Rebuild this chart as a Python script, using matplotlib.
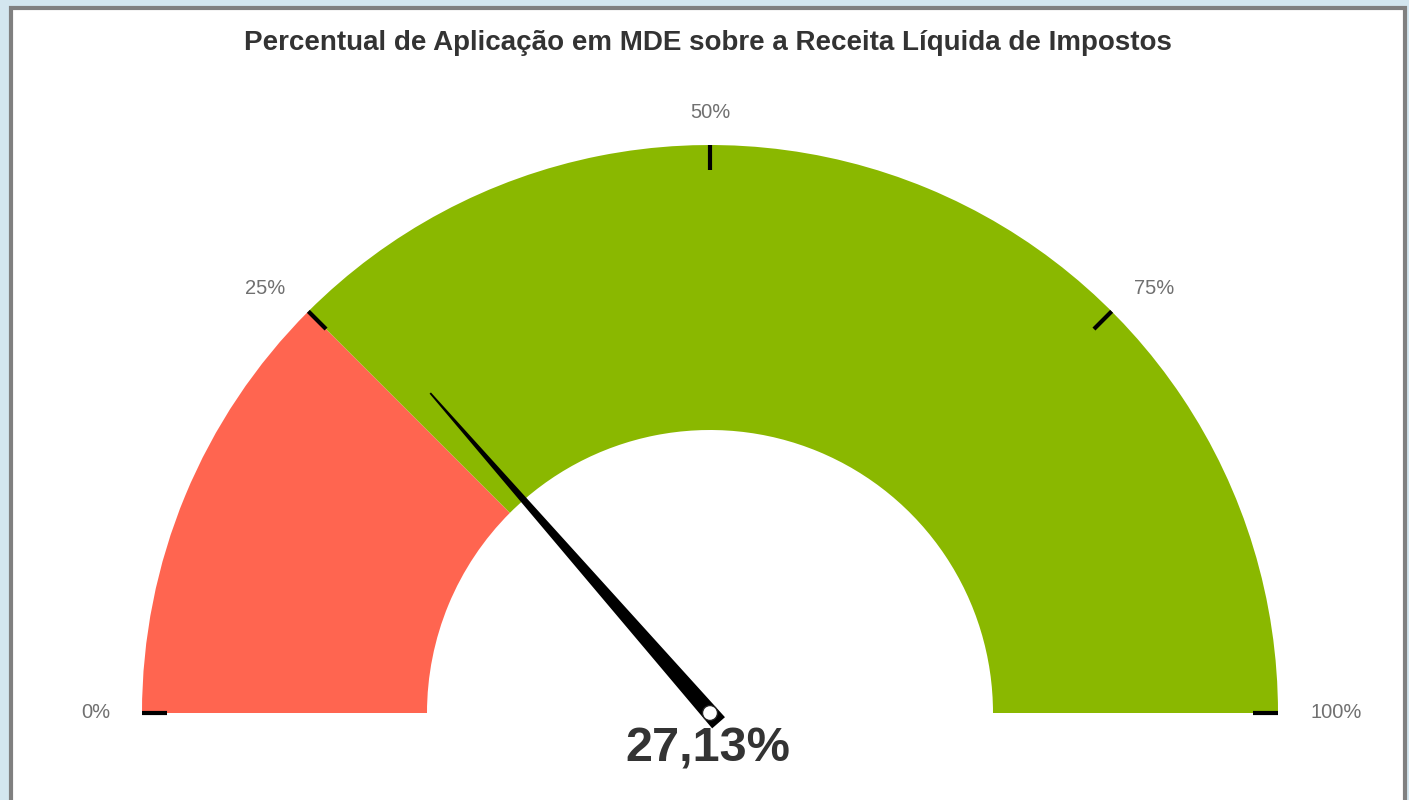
import numpy as np
import matplotlib.pyplot as plt
from matplotlib.patches import Wedge, Rectangle, Polygon, Circle

plt.rcParams['font.family'] = ['Liberation Sans', 'DejaVu Sans']

# data
title = 'Percentual de Aplicação em MDE sobre a Receita Líquida de Impostos'
value = 27.13
value_label = '27,13%'
band_limits = [0, 25, 100]
band_colors = ['#FF6550', '#8AB800']
tick_values = [0, 25, 50, 75, 100]
tick_labels = ['0%', '25%', '50%', '75%', '100%']

# gauge geometry (pixel units)
cx, cy = 710, 87
r_out, r_in = 568, 283


def ang(v):
    return 180 - v / 100 * 180


fig = plt.figure(figsize=(14.09, 8), dpi=100, facecolor='#d3e6ef')
ax = fig.add_axes([0, 0, 1, 1])
ax.set_xlim(0, 1409)
ax.set_ylim(0, 800)
ax.axis('off')

# white panel with gray border
ax.add_patch(Rectangle((11, -20), 1394, 812, facecolor='white',
                       edgecolor='#808080', linewidth=3, zorder=0))

# colour bands
for lo, hi, c in zip(band_limits[:-1], band_limits[1:], band_colors):
    ax.add_patch(Wedge((cx, cy), r_out, ang(hi), ang(lo), width=r_out - r_in,
                       facecolor=c, edgecolor='none', zorder=1))

# ticks and tick labels
for v, lab in zip(tick_values, tick_labels):
    t = np.radians(ang(v))
    ax.plot([cx + r_out * np.cos(t), cx + (r_out - 25) * np.cos(t)],
            [cy + r_out * np.sin(t), cy + (r_out - 25) * np.sin(t)],
            color='black', lw=3, solid_capstyle='butt', zorder=2)
    rl = 600
    if v < 50:
        ha = 'right'
    elif v > 50:
        ha = 'left'
    else:
        ha = 'center'
    ax.text(cx + rl * np.cos(t), cy + rl * np.sin(t), lab, fontsize=14.5,
            color='#707070', ha=ha, va='center', zorder=3)

# needle
t = np.radians(ang(value))
d = np.array([np.cos(t), np.sin(t)])
n = np.array([-np.sin(t), np.cos(t)])
c0 = np.array([cx, cy])
tip = c0 + d * 425
tail = c0 - d * 13
pts = [tail + n * 8.5, tip + n * 0.9, tip - n * 0.9, tail - n * 8.5]
ax.add_patch(Polygon(pts, closed=True, facecolor='black', edgecolor='none',
                     zorder=4))
ax.add_patch(Circle((cx, cy), 7.5, facecolor='white', edgecolor='#222222',
                    linewidth=1, zorder=5))

# value text
ax.text(708, 51, value_label, fontsize=35, fontweight='bold', color='#333333',
        ha='center', va='center', zorder=6)

# title
ax.text(708, 757, title, fontsize=20, fontweight='bold', color='#333333',
        ha='center', va='center')

fig.savefig('out.png', dpi=100, facecolor=fig.get_facecolor())
